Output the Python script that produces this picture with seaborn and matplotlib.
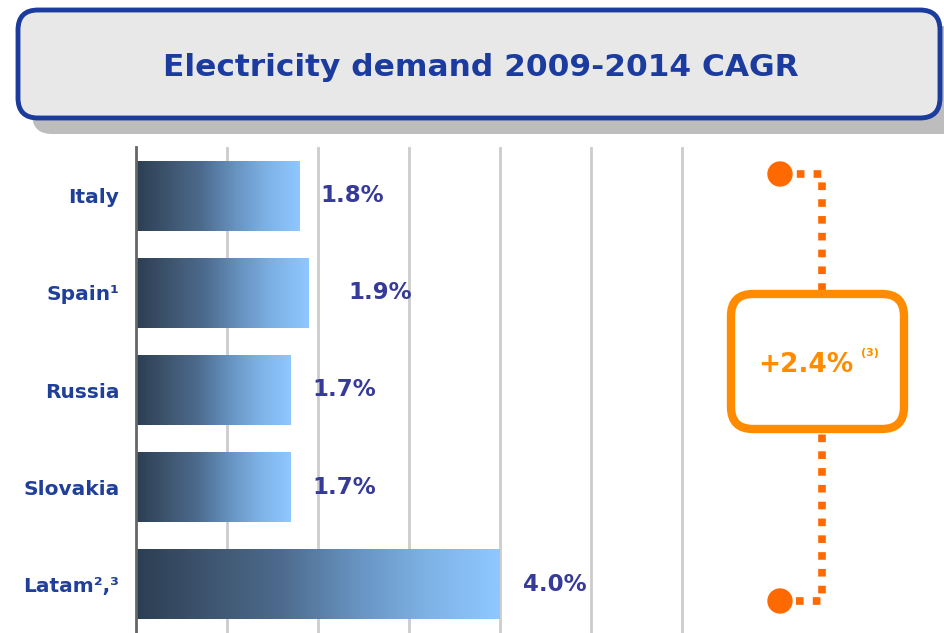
import numpy as np
import pandas as pd
import matplotlib
matplotlib.use("Agg")
import matplotlib.pyplot as plt
from matplotlib.colors import LinearSegmentedColormap
from matplotlib.patches import FancyBboxPatch, Circle
import seaborn as sns

# ===============================
# Data
# ===============================
countries = ["Italy", "Spain", "Russia", "Slovakia", "Latam"]
country_labels = ["Italy", "Spain¹", "Russia", "Slovakia", "Latam²,³"]
cagr = [1.8, 1.9, 1.7, 1.7, 4.0]
value_labels = ["1.8%", "1.9%", "1.7%", "1.7%", "4.0%"]
total_label = "+2.4%"
total_note = "(3)"
title = "Electricity demand 2009-2014 CAGR"

# gap between bar end and its label (data units), as on the slide
label_dx = [0.23, 0.43, 0.24, 0.24, 0.25]

# ===============================
# Style
# ===============================
sns.set_style("white")
plt.rcParams["font.family"] = ["DejaVu Sans"]

TITLE_BLUE = "#1b3c9e"
LABEL_BLUE = "#1f3f99"
VALUE_BLUE = "#363a98"
ORANGE_DOT = "#ff6a00"
ORANGE_BOX = "#ff8c00"

bar_cmap = LinearSegmentedColormap.from_list(
    "bar", ["#2c3e52", "#3e556f", "#4d6b8e", "#6692bf", "#7eb2e6", "#8ec8ff"])

W, H = 944, 633
fig = plt.figure(figsize=(W / 100, H / 100), dpi=100)

# ===============================
# Bars
# ===============================
ax = fig.add_axes([136 / W, 0, (W - 136) / W, (H - 147) / H])
df = pd.DataFrame({"country": countries, "cagr": cagr})
sns.barplot(data=df, x="cagr", y="country", orient="h", width=0.72,
            color="#8ec8ff", ax=ax)

grad = np.linspace(0, 1, 256).reshape(1, -1)
for p in ax.patches:
    x0, y0 = p.get_x(), p.get_y()
    w, h = p.get_width(), p.get_height()
    ax.imshow(grad, extent=[x0, x0 + w, y0 + h, y0], aspect="auto",
              cmap=bar_cmap, zorder=2, interpolation="bilinear")
    p.set_visible(False)

for i, (v, lab) in enumerate(zip(cagr, value_labels)):
    ax.text(v + label_dx[i], i, lab, ha="left", va="center", fontsize=16.5,
            fontweight="bold", color=VALUE_BLUE)

ax.set_xlim(0, (W - 136) / 91)
ax.set_ylim(4.5, -0.5)
ax.set_xticks(np.arange(1, 7))
ax.set_xticklabels([])
ax.set_yticks(range(len(countries)))
ax.set_yticklabels(country_labels, fontsize=14.5, fontweight="bold",
                   color=LABEL_BLUE)
ax.tick_params(axis="y", length=0, pad=12)
ax.tick_params(axis="x", length=0)
ax.set_xlabel("")
ax.set_ylabel("")
ax.grid(axis="x", color="#cccccc", lw=2)
ax.set_axisbelow(True)
for s in ["top", "right", "bottom"]:
    ax.spines[s].set_visible(False)
ax.spines["left"].set_color("#666666")
ax.spines["left"].set_linewidth(2)
ax.spines["left"].set_zorder(3)

# ===============================
# Overlay: title box + total bracket (pixel coords)
# ===============================
ov = fig.add_axes([0, 0, 1, 1])
ov.set_xlim(0, W)
ov.set_ylim(H, 0)
ov.axis("off")

ov.add_patch(FancyBboxPatch((32, 26), 930, 108,
                            boxstyle="round,pad=0,rounding_size=20",
                            fc="#bdbdbd", ec="none", zorder=1))
ov.add_patch(FancyBboxPatch((18, 10), 922, 108,
                            boxstyle="round,pad=0,rounding_size=20",
                            fc="#e8e8e8", ec=TITLE_BLUE, lw=3.5, zorder=2))
ov.text(481, 68, title, ha="center", va="center", fontsize=22.5,
        fontweight="bold", color=TITLE_BLUE, zorder=3)

ov.plot([780, 822, 822, 780], [174, 174, 601, 601], color=ORANGE_DOT,
        lw=5.5, ls=(0, (1, 1.2)), dash_capstyle="butt", zorder=3)
ov.add_patch(Circle((780, 174), 12, color=ORANGE_DOT, zorder=4))
ov.add_patch(Circle((780, 601), 12, color=ORANGE_DOT, zorder=4))
ov.add_patch(FancyBboxPatch((731, 294), 173, 135,
                            boxstyle="round,pad=0,rounding_size=22",
                            fc="white", ec=ORANGE_BOX, lw=6, zorder=5))
ov.text(806, 365, total_label, ha="center", va="center", fontsize=19,
        fontweight="bold", color=ORANGE_BOX, zorder=6)
ov.text(870, 353, total_note, ha="center", va="center", fontsize=8,
        fontweight="bold", color=ORANGE_BOX, zorder=6)

fig.savefig("out.png", dpi=100)
